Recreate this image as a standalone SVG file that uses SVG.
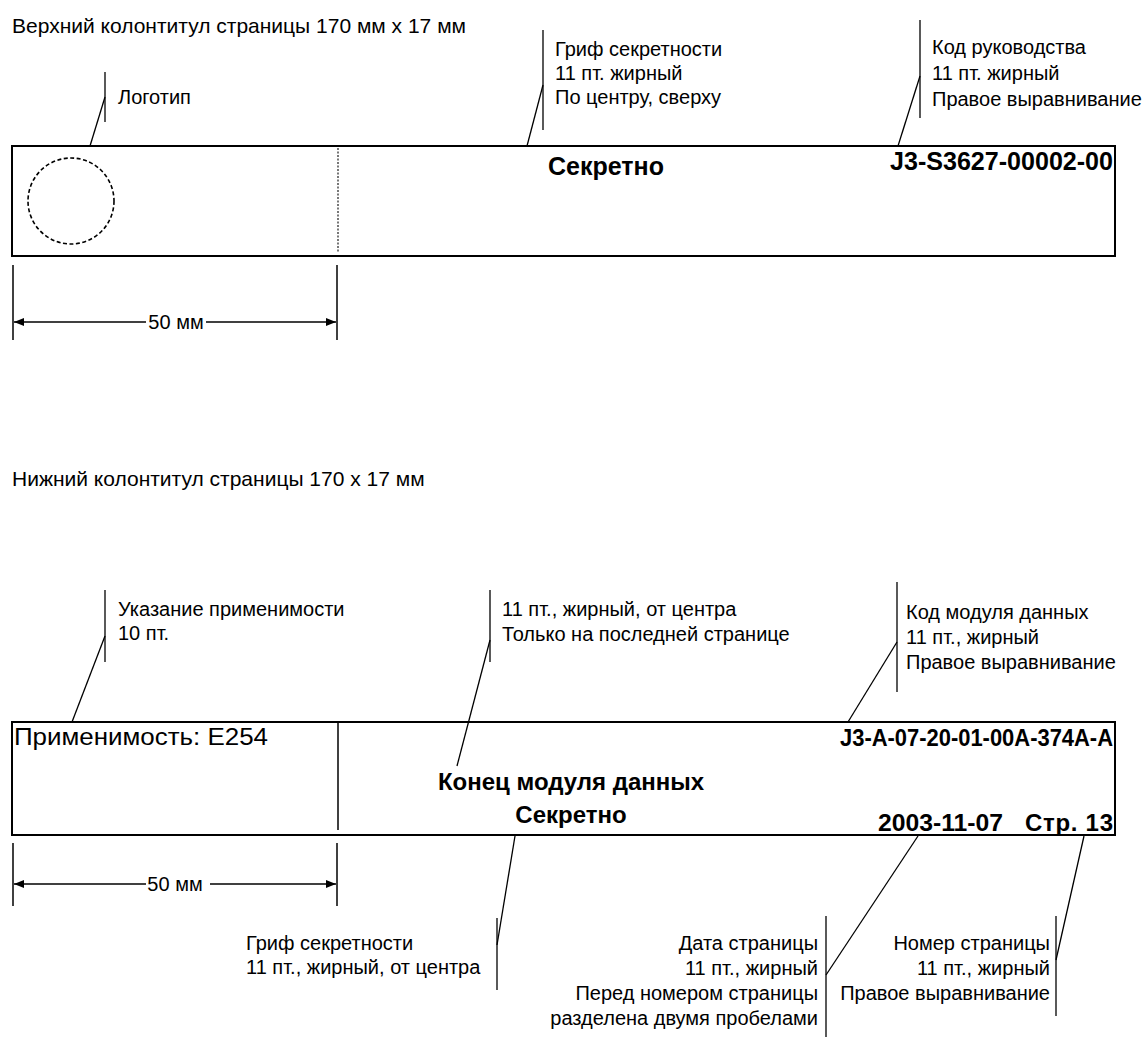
<svg xmlns="http://www.w3.org/2000/svg" width="1143" height="1037" viewBox="0 0 1143 1037">
<defs>
<style>
.t{font-family:"Liberation Sans",Arial,sans-serif;font-size:20px;fill:#000}
.h{font-family:"Liberation Sans",Arial,sans-serif;font-size:21px;fill:#000}
.b{font-family:"Liberation Sans",Arial,sans-serif;font-weight:bold;font-size:24px;fill:#000}
.box{fill:#fff;stroke:#000;stroke-width:2}
.ld{stroke:#000;stroke-width:1.3;fill:none}
.dim{stroke:#000;stroke-width:1.5;fill:none}
</style>
<marker id="ar" viewBox="0 0 10 10" refX="10" refY="5" markerWidth="10" markerHeight="10" markerUnits="userSpaceOnUse" orient="auto-start-reverse">
<path d="M0,1 L10,5 L0,9 z" fill="#000"/>
</marker>
</defs>
<rect width="1143" height="1037" fill="#fff"/>

<text class="h" x="12" y="33">Верхний колонтитул страницы 170 мм х 17 мм</text>
<text class="h" x="12" y="486">Нижний колонтитул страницы 170 х 17 мм</text>

<g id="top-header">
<rect class="box" x="12" y="146" width="1103" height="110"/>
<circle cx="71" cy="201" r="43" fill="none" stroke="#000" stroke-width="1.6" stroke-dasharray="4,2.5"/>
<line x1="338" y1="148" x2="338" y2="253" stroke="#777" stroke-width="2" stroke-dasharray="2,1.5"/>
<text class="b" x="606" y="175" text-anchor="middle" style="font-size:25px">Секретно</text>
<text class="b" x="1113" y="170" text-anchor="end" textLength="223" lengthAdjust="spacingAndGlyphs" style="font-size:25px">J3-S3627-00002-00</text>
</g>

<g id="bottom-footer">
<rect class="box" x="12" y="722" width="1103" height="113"/>
<line x1="338" y1="722" x2="338" y2="830" stroke="#000" stroke-width="1.5"/>
<text x="14" y="745" style="font-family:'Liberation Sans',Arial,sans-serif;font-size:24px" textLength="254" lengthAdjust="spacingAndGlyphs">Применимость: E254</text>
<text class="b" x="1113" y="746" text-anchor="end" textLength="273" lengthAdjust="spacingAndGlyphs">J3-A-07-20-01-00A-374A-A</text>
<text class="b" x="571" y="790" text-anchor="middle">Конец модуля данных</text>
<text class="b" x="571" y="823" text-anchor="middle">Секретно</text>
<text class="b" x="878" y="831" textLength="125" lengthAdjust="spacingAndGlyphs">2003-11-07</text>
<text class="b" x="1113" y="831" text-anchor="end" textLength="88" lengthAdjust="spacing">Стр. 13</text>
</g>

<g id="dim-top">
<line class="dim" x1="13" y1="265" x2="13" y2="340"/>
<line class="dim" x1="337" y1="265" x2="337" y2="340"/>
<line class="dim" x1="146" y1="322" x2="14" y2="322" marker-end="url(#ar)"/>
<line class="dim" x1="206" y1="322" x2="336" y2="322" marker-end="url(#ar)"/>
<text class="t" x="176" y="329" text-anchor="middle">50 мм</text>
</g>

<g id="dim-bottom">
<line class="dim" x1="13" y1="843" x2="13" y2="906"/>
<line class="dim" x1="337" y1="843" x2="337" y2="906"/>
<line class="dim" x1="146" y1="884" x2="14" y2="884" marker-end="url(#ar)"/>
<line class="dim" x1="210" y1="884" x2="336" y2="884" marker-end="url(#ar)"/>
<text class="t" x="175" y="891" text-anchor="middle">50 мм</text>
</g>

<g id="label-logo">
<text class="t" x="118" y="104">Логотип</text>
</g>
<g id="label-grif-top">
<text class="t" x="555" y="56">Гриф секретности</text>
<text class="t" x="555" y="80">11 пт. жирный</text>
<text class="t" x="555" y="104">По центру, сверху</text>
</g>
<g id="label-code-top">
<text class="t" x="932" y="54">Код руководства</text>
<text class="t" x="932" y="80">11 пт. жирный</text>
<text class="t" x="932" y="106">Правое выравнивание</text>
</g>
<g id="label-applic">
<text class="t" x="118" y="616">Указание применимости</text>
<text class="t" x="118" y="640">10 пт.</text>
</g>
<g id="label-end">
<text class="t" x="502" y="616">11 пт., жирный, от центра</text>
<text class="t" x="502" y="641">Только на последней странице</text>
</g>
<g id="label-code-bottom">
<text class="t" x="906" y="619">Код модуля данных</text>
<text class="t" x="906" y="644">11 пт., жирный</text>
<text class="t" x="906" y="669">Правое выравнивание</text>
</g>
<g id="label-grif-bottom">
<text class="t" x="246" y="950">Гриф секретности</text>
<text class="t" x="246" y="974">11 пт., жирный, от центра</text>
</g>
<g id="label-date">
<text class="t" x="818" y="950" text-anchor="end">Дата страницы</text>
<text class="t" x="818" y="975" text-anchor="end">11 пт., жирный</text>
<text class="t" x="818" y="1000" text-anchor="end">Перед номером страницы</text>
<text class="t" x="818" y="1025" text-anchor="end">разделена двумя пробелами</text>
</g>
<g id="label-page">
<text class="t" x="1050" y="950" text-anchor="end">Номер страницы</text>
<text class="t" x="1050" y="975" text-anchor="end">11 пт., жирный</text>
<text class="t" x="1050" y="1000" text-anchor="end">Правое выравнивание</text>
</g>

<g id="connectors">
<line class="ld" x1="105" y1="72" x2="105" y2="122"/>
<line class="ld" x1="105" y1="97" x2="90" y2="146"/>
<line class="ld" x1="543" y1="30" x2="543" y2="130"/>
<line class="ld" x1="543" y1="85" x2="527" y2="146"/>
<line class="ld" x1="920" y1="20" x2="920" y2="118"/>
<line class="ld" x1="920" y1="76" x2="898" y2="146"/>
<line class="ld" x1="105" y1="590" x2="105" y2="662"/>
<line class="ld" x1="105" y1="636" x2="72" y2="722"/>
<line class="ld" x1="490" y1="590" x2="490" y2="662"/>
<line class="ld" x1="490" y1="640" x2="457" y2="766"/>
<line class="ld" x1="897" y1="582" x2="897" y2="692"/>
<line class="ld" x1="897" y1="642" x2="848" y2="722"/>
<line class="ld" x1="497" y1="918" x2="497" y2="990"/>
<line class="ld" x1="497" y1="945" x2="515" y2="836"/>
<line class="ld" x1="826" y1="916" x2="826" y2="1037"/>
<line class="ld" x1="826" y1="975" x2="918" y2="836"/>
<line class="ld" x1="1056" y1="916" x2="1056" y2="1016"/>
<line class="ld" x1="1056" y1="960" x2="1084" y2="836"/>
</g>
</svg>
